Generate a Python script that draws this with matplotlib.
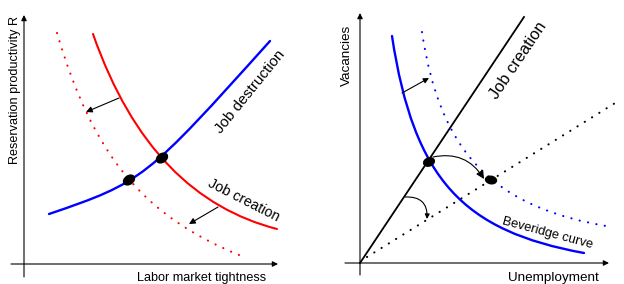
import matplotlib
matplotlib.use("Agg")
import matplotlib.pyplot as plt
from matplotlib import font_manager
from matplotlib.patches import Ellipse, PathPatch
from matplotlib.path import Path

# the reference uses a narrow sans; fall back to Liberation Sans, a bit smaller
have = {f.name for f in font_manager.fontManager.ttflist}
if 'Liberation Sans Narrow' in have:
    plt.rcParams['font.family'] = ['Liberation Sans Narrow', 'DejaVu Sans']
    FS = 1 / 0.82
else:
    plt.rcParams['font.family'] = ['Liberation Sans', 'DejaVu Sans']
    FS = 1.0

# ---- left panel (units = px from the axis origin); curves are cubic Beziers
red_ctrl_x = [69, 109, 172, 253]
red_ctrl_y = [230, 116, 56, 35]
red_shift_ctrl_x = [33, 69, 118, 215]
red_shift_ctrl_y = [231, 109, 49, 9]
blue_ctrl_x = [25, 119, 122, 246]
blue_ctrl_y = [50, 82, 85, 223]
eq_left_x = [105, 138]
eq_left_y = [84, 106]

# ---- right panel: Beveridge diagram
jc_x = [0, 164]
jc_y = [0, 246]
jc_shift_x = [7, 260]
jc_shift_y = [6, 163]
bev_ctrl_x = [32, 54, 104, 224]
bev_ctrl_y = [227, 82, 32, 10]
bev_shift_ctrl_x = [62, 80, 133, 252]
bev_shift_ctrl_y = [231, 110, 55, 36]
eq_right_x = [69, 131]
eq_right_y = [101, 83]

RED = '#ff0000'
BLUE = '#0000ff'
dots = (0, (0.1, 4))

fig = plt.figure(figsize=(6.24, 2.84), dpi=100)
axL = fig.add_axes([0, 0, 0.5, 1])
axR = fig.add_axes([0.5, 0, 0.5, 1])
axL.set_xlim(-24, 288)
axL.set_ylim(-20, 264)
axR.set_xlim(-48, 264)
axR.set_ylim(-21, 263)
for ax in (axL, axR):
    ax.axis('off')


def bezier(ax, xs, ys, color, lw, ls='-'):
    codes = [Path.MOVETO, Path.CURVE4, Path.CURVE4, Path.CURVE4]
    p = Path(list(zip(xs, ys)), codes)
    ax.add_patch(PathPatch(p, fill=False, edgecolor=color, lw=lw, ls=ls,
                           capstyle='round'))


def arrow(ax, start, end, rad=0.0, lw=0.8, scale=8):
    ax.annotate('', xy=end, xytext=start,
                arrowprops=dict(arrowstyle='-|>', color='k', lw=lw,
                                mutation_scale=scale, shrinkA=0, shrinkB=0,
                                connectionstyle='arc3,rad=%g' % rad))


# axes with arrows
arrow(axL, (0, -13), (0, 249))
arrow(axL, (-13, 0), (254, 0))
arrow(axR, (0, -12), (0, 250))
arrow(axR, (-15, 0), (249, 0))

# left curves
bezier(axL, red_ctrl_x, red_ctrl_y, RED, 1.5)
bezier(axL, red_shift_ctrl_x, red_shift_ctrl_y, RED, 1.5, dots)
bezier(axL, blue_ctrl_x, blue_ctrl_y, BLUE, 1.7)
for x, y in zip(eq_left_x, eq_left_y):
    axL.add_patch(Ellipse((x, y), 12, 8.5, angle=35, color='k', zorder=5))
arrow(axL, (95, 166), (62, 152), scale=9)
arrow(axL, (194, 57), (165, 40), scale=9)

axL.text(226, 172, 'Job destruction', rotation=51, fontsize=10.9 * FS,
         ha='center', va='center', rotation_mode='anchor')
axL.text(220, 64, 'Job creation', rotation=-27, fontsize=10.3 * FS,
         ha='center', va='center', rotation_mode='anchor')
axL.text(178, -8, 'Labor market tightness', fontsize=9.1 * FS, ha='center', va='top')
axL.text(-9, 174, 'Reservation productivity R', rotation=90, fontsize=9.1 * FS,
         ha='center', va='center')

# right curves
axR.plot(jc_x, jc_y, color='k', lw=1.3)
axR.plot(jc_shift_x, jc_shift_y, color='k', lw=1.5, ls=dots, dash_capstyle='round')
bezier(axR, bev_ctrl_x, bev_ctrl_y, BLUE, 1.7)
bezier(axR, bev_shift_ctrl_x, bev_shift_ctrl_y, BLUE, 1.5, dots)
axR.add_patch(Ellipse((eq_right_x[0], eq_right_y[0]), 11, 8, angle=20, color='k', zorder=5))
axR.add_patch(Ellipse((eq_right_x[1], eq_right_y[1]), 11, 7.5, angle=-10, color='k', zorder=5))
arrow(axR, (42, 170), (69, 185), scale=8)
arrow(axR, (73, 106), (124, 84), rad=-0.35, scale=12)
arrow(axR, (45, 66), (67, 44), rad=-0.55, scale=7)

axR.text(158, 203, 'Job creation', rotation=56, fontsize=11.8 * FS,
         ha='center', va='center', rotation_mode='anchor')
axR.text(188, 30, 'Beveridge curve', rotation=-15, fontsize=9.3 * FS,
         ha='center', va='center', rotation_mode='anchor')
axR.text(193, -9, 'Unemployment', fontsize=9.7 * FS, ha='center', va='top')
axR.text(-13, 208, 'Vacancies', rotation=90, fontsize=9.7 * FS, ha='center', va='center')

fig.savefig('out.png', dpi=100)
